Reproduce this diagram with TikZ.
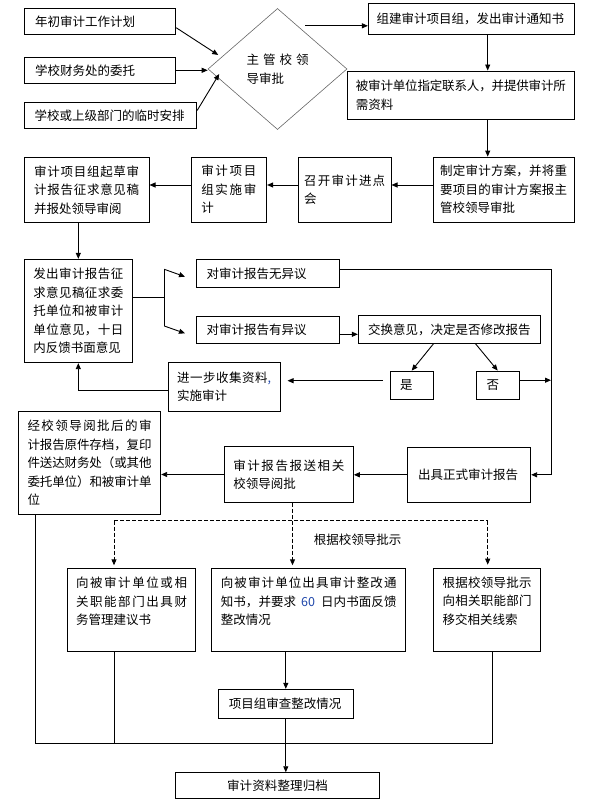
\documentclass[tikz,border=0pt]{standalone}
\usepackage{fontspec}
\setmainfont{Noto Sans CJK SC}
\usetikzlibrary{shapes.geometric,arrows.meta}
\XeTeXlinebreaklocale "zh"
\XeTeXlinebreakskip=0pt plus 4pt minus 0.4pt
\definecolor{numblue}{RGB}{30,70,170}
\begin{document}
\begin{tikzpicture}[x=1pt, y=-1pt, >={Triangle[length=6pt,width=5pt]},
    font=\fontsize{12.5}{18.5}\selectfont, line width=0.9pt,
    box/.style={draw, inner sep=2pt, align=justify},
    topbox/.style={box, anchor=north, inner ysep=8pt, text height=11pt},
    dashline/.style={dash pattern=on 4pt off 2pt}]
    \useasboundingbox (0,0) rectangle (592,802);
    \node[box, minimum width=151.4pt, minimum height=26pt, text width=130pt] (plan) at (100,21.3) {年初审计工作计划};
    \node[box, minimum width=151.4pt, minimum height=26pt, text width=130pt] (entrust) at (100,70.3) {学校财务处的委托};
    \node[box, minimum width=172.4pt, minimum height=25.6pt, text width=152pt] (temp) at (110.5,115.5) {学校或上级部门的临时安排};
    \node[draw=black!60, line width=0.6pt, diamond, minimum width=139pt, minimum height=121pt, inner sep=0pt, text width=62pt, align=justify] (appr) at (277.5,69) {主管校领\linebreak 导审批};
    \node[box, minimum width=205.7pt, minimum height=31pt, text width=189pt] (team) at (471.2,18.8) {组建审计项目组，发出审计通知书};
    \node[box, minimum width=226.3pt, minimum height=48pt, text width=210pt] (contact) at (460.85,95) {被审计单位指定联系人，并提供审计所\linebreak 需资料};
    \node[box, minimum width=140.7pt, minimum height=65.3pt, text width=127pt] (scheme) at (503.7,189.7) {制定审计方案，并将重\linebreak 要项目的审计方案报主\linebreak 管校领导审批};
    \node[box, minimum width=92.7pt, minimum height=65.3pt, text width=81pt] (entry) at (344.7,189.7) {召开审计进点\linebreak 会};
    \node[box, minimum width=75.7pt, minimum height=65.3pt, text width=55pt] (implement) at (228.8,189.7) {审计项目\linebreak 组实施审\linebreak 计};
    \node[box, minimum width=124.7pt, minimum height=65pt, text width=105pt] (draft) at (86.7,189.8) {审计项目组起草审\linebreak 计报告征求意见稿\linebreak 并报处领导审阅};
    \node[box, minimum width=108pt, minimum height=103.4pt, text width=90pt] (consult) at (78.3,311) {发出审计报告征\linebreak 求意见稿征求委\linebreak 托单位和被审计\linebreak 单位意见，十日\linebreak 内反馈书面意见};
    \node[box, minimum width=142.6pt, minimum height=28pt, text width=122.6pt] (agree) at (268,273.3) {对审计报告无异议};
    \node[box, minimum width=142.6pt, minimum height=27.3pt, text width=122.6pt] (object) at (268,329.7) {对审计报告有异议};
    \node[box, minimum width=182.4pt, minimum height=27.6pt, text width=163pt] (exchange) at (449.5,329.5) {交换意见，决定是否修改报告};
    \node[box, minimum width=43.3pt, minimum height=28.3pt, text width=23.3pt] (yes) at (411.7,385.2) {是};
    \node[box, minimum width=43.3pt, minimum height=28.3pt, text width=22pt] (no) at (497.7,385.2) {否};
    \node[box, minimum width=111.7pt, minimum height=48.7pt, text width=94pt] (collect) at (224.2,386.7) {进一步收集资料{\color{numblue},}\linebreak 实施审计};
    \node[box, minimum width=142.4pt, minimum height=102.3pt, text width=124pt] (archive) at (89.5,462.9) {经校领导阅批后的审\linebreak 计报告原件存档，复印\linebreak 件送达财务处（或其他\linebreak 委托单位）和被审计单\linebreak 位};
    \node[box, minimum width=129pt, minimum height=55.6pt, text width=111pt] (submit) at (288.8,474.5) {审计报告报送相关\linebreak 校领导阅批};
    \node[box, minimum width=123.4pt, minimum height=55pt, text width=102pt] (formal) at (469,474.8) {出具正式审计报告};
    \node[topbox, minimum width=128.4pt, text width=111pt, text depth=55.4pt] (advice) at (131.5,568.3) {向被审计单位或相\linebreak 关职能部门出具财\linebreak 务管理建议书};
    \node[topbox, minimum width=194pt, text width=175.6pt, text depth=55.4pt] (rectify) at (308.7,568.3) {向被审计单位出具审计整改通\linebreak 知书，并要求\hspace{5pt}\textcolor{numblue}{60}\hspace{6pt}日内书面反馈\linebreak 整改情况};
    \node[topbox, minimum width=107.4pt, text width=89pt, text depth=56pt] (transfer) at (487,567.7) {根据校领导批示\linebreak 向相关职能部门\linebreak 移交相关线索};
    \node[box, minimum width=135pt, minimum height=29pt, text width=114pt] (review) at (285.8,703.8) {项目组审查整改情况};
    \node[box, minimum width=203.6pt, minimum height=25.6pt, text width=102pt, align=center] (file) at (277.5,785.5) {审计资料整理归档};
    \node (instr) at (357.5,540) {根据校领导批示};
    \coordinate (spine) at (487.7,0);
    \coordinate (row) at (0,185);
    \coordinate (fork) at (164.3,297.3);
    \coordinate (forkA) at (164.3,269.3);
    \coordinate (forkB) at (164.3,326);
    \coordinate (tipA) at (185,276.7);
    \coordinate (tipB) at (185,333.3);
    \coordinate (rspine) at (551,269.3);
    \coordinate (dl) at (114,520.7);
    \coordinate (dm) at (292.5,520.7);
    \coordinate (dr) at (487.7,520.7);
    \coordinate (bl) at (35.3,743.3);
    \coordinate (br) at (492.3,743.3);
    \draw[->] ([yshift=-6.4pt]plan.east) -- ([xshift=10.5pt,yshift=14pt]appr.west);
    \draw[->] (entrust.east) -- (entrust.east -| appr.west);
    \draw[->] ([yshift=5pt]temp.east) -- ([xshift=11.5pt,yshift=-5pt]appr.west);
    \draw[<-] ([yshift=-7pt]team.west) -- ++(-63,0);
    \draw[->] (team.south -| spine) -- (contact.north -| spine);
    \draw[->] (contact.south -| spine) -- (scheme.north -| spine);
    \draw[->] (scheme.west |- row) -- (entry.east |- row);
    \draw[->] (entry.west |- row) -- (implement.east |- row);
    \draw[->] (implement.west |- row) -- (draft.east |- row);
    \draw[->] (draft.south -| consult.north) -- (consult.north);
    \draw (fork -| consult.east) -- (fork);
    \draw (forkA) -- (forkB);
    \draw[->] (forkA) -- (tipA);
    \draw[->] (forkB) -- (tipB);
    \draw[->] (agree.east |- rspine) -- (rspine) |- (formal.east);
    \draw[->] ([yshift=-4.6pt]object.east) -- ([yshift=-4.6pt]object.east -| exchange.west);
    \draw[->] ([xshift=-16pt]exchange.south) -- (yes.north);
    \draw[->] ([xshift=26pt]exchange.south) -- (no.north);
    \draw[->] ([yshift=5pt]no.east) -- ([yshift=5pt]no.east -| rspine);
    \draw[->, shorten <=7pt, shorten >=7pt] ([yshift=4.5pt]yes.west) -- ([yshift=4.5pt]yes.west -| collect.east);
    \draw[->] ([yshift=-4pt]collect.west) -| (consult.south);
    \draw[->] (formal.west) -- (formal.west -| submit.east);
    \draw[->] (submit.west) -- (submit.west -| archive.east);
    \draw[dashline] (submit.south -| dm) -- (dm);
    \draw[dashline] (dl) -- (dr);
    \draw[dashline, ->, shorten >=3pt] (dl) -- (dl |- advice.north);
    \draw[dashline, ->, shorten >=3pt] (dm) -- (dm |- rectify.north);
    \draw[dashline, ->, shorten >=3pt] (dr) -- (dr |- transfer.north);
    \draw[->] (review.north |- rectify.south) -- (review.north);
    \draw[->] (review.south) -- (review.south |- file.north);
    \draw (archive.south -| bl) -- (bl) -- (br) -- (transfer.south -| br);
    \draw (advice.south -| dl) -- (dl |- bl);
\end{tikzpicture}
\end{document}
